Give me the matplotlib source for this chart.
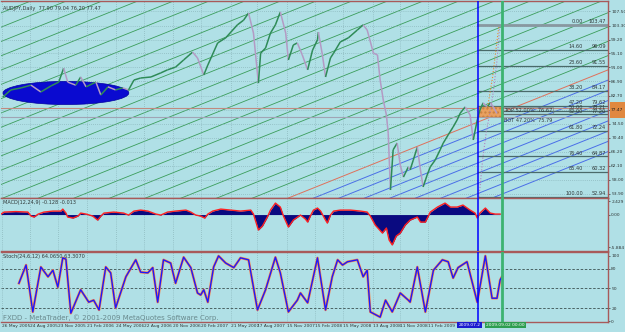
# -*- coding: utf-8 -*-

import numpy as np
import matplotlib.pyplot as plt
from matplotlib.patches import Ellipse, Rectangle
from matplotlib.collections import LineCollection

# data ----------------------------------------------------------------------

title = "AUDJPY,Daily  77.90 79.04 76.20 77.47"
macd_title = "MACD(12,24,9) -0.128 -0.013"
stoch_title = "Stoch(24,6,12) 64.0650 63.3070"
footer = "FXDD - MetaTrader, \u00a9 2001-2009 MetaQuotes Software Corp."

n_bars = 1356

price_bar = [4, 22, 45, 67, 89, 112, 129, 140, 149, 167, 178, 190, 212, 223,
             239, 256, 272, 285, 297, 312, 335, 357, 372, 390, 408, 428, 439,
             453, 462, 484, 502, 528, 542, 553, 564, 575, 580, 591, 602, 613,
             624, 636, 642, 653, 662, 673, 685, 696, 707, 709, 718, 725, 736,
             743, 758, 776, 796, 809, 818, 832, 841, 847, 854, 861, 865, 870,
             876, 885, 892, 899, 910, 914, 921, 930, 937, 943, 952, 959, 970,
             981, 988, 999, 1010, 1019, 1026, 1037, 1048, 1055, 1064, 1070,
             1077, 1086, 1093, 1097, 1108]
price = [82.3, 84.4, 85.0, 85.8, 83.8, 85.6, 86.7, 90.8, 86.7, 85.8, 88.2,
         85.3, 86.7, 82.9, 85.3, 84.4, 85.0, 84.4, 87.3, 87.9, 88.2, 89.4,
         90.3, 91.1, 93.2, 95.5, 93.8, 88.8, 91.7, 98.2, 99.7, 103.5, 104.9,
         107.0, 101.1, 86.4, 95.2, 96.7, 101.1, 103.5, 107.3, 101.1, 93.2,
         97.6, 98.2, 94.7, 90.3, 96.1, 99.1, 101.4, 94.7, 88.2, 93.8, 95.2,
         98.5, 99.7, 102.0, 103.5, 102.0, 95.2, 94.7, 87.3, 81.4, 77.0, 71.7,
         55.0, 66.8, 68.8, 62.3, 58.8, 61.8, 60.9, 63.8, 67.6, 60.9, 55.9,
         59.4, 61.8, 63.8, 66.8, 68.8, 71.2, 73.5, 75.6, 77.6, 79.4, 77.0,
         69.7, 75.6, 78.5, 80.6, 79.4, 80.6, 80.0, 77.5]

macd_bar = [0, 7, 33, 60, 67, 74, 83, 96, 116, 134, 138, 145, 149, 161, 172,
            178, 190, 205, 216, 223, 230, 252, 274, 285, 297, 312, 328, 346,
            357, 372, 390, 413, 424, 435, 446, 455, 462, 473, 491, 513, 535,
            558, 564, 575, 584, 595, 602, 613, 624, 631, 642, 653, 669, 680,
            685, 691, 698, 707, 714, 725, 729, 736, 743, 758, 781, 803, 818,
            825, 836, 852, 861, 867, 874, 883, 892, 903, 914, 930, 937, 948,
            959, 975, 992, 1004, 1019, 1032, 1048, 1059, 1064, 1070, 1082,
            1093, 1104, 1115]
macd = [0.09, 0.45, 0.54, 0.45, -0.27, -0.45, 0.09, 0.45, 0.63, 0.63,
        0.99, 0.27, -0.45, -0.63, -0.27, 0.27, 0.09, -0.27, -1.0, -0.27,
        0.27, 0.45, 0.27, -0.09, 0.63, 0.81, 0.63, 0.09, -0.09, 0.45,
        0.63, 0.81, 0.45, -0.09, -0.27, -0.63, 0.09, 0.63, 0.99, 0.81,
        0.63, 0.81, 0.09, -2.8, -2.08, -0.45, 0.81, 2.08, 1.36, -0.27,
        -2.26, -1.0, -0.09, -0.81, -1.36, -0.27, 0.81, 1.18, 0.63, -1.0,
        -1.54, -0.09, 0.63, 0.81, 0.81, 0.63, 0.45, -0.27, -1.9, -3.35,
        -2.44, -4.61, -5.5, -3.89, -3.35, -1.9, -1.0, -0.45, -1.36, -1.36,
        0.45, 1.36, 2.08, 1.36, 1.36, 1.72, 0.81, 0.27, -0.63, 0.27,
        1.18, 0.27, 0.09, 0.09]

stoch_bar = [40, 56, 71, 89, 105, 116, 127, 138, 145, 156, 178, 196, 207, 219,
             234, 245, 256, 279, 301, 312, 328, 339, 350, 363, 379, 390, 408,
             424, 439, 446, 453, 462, 475, 486, 502, 520, 535, 553, 573, 591,
             613, 624, 642, 662, 669, 685, 707, 725, 740, 752, 763, 774, 796,
             809, 818, 825, 847, 859, 874, 892, 910, 914, 930, 948, 966, 986,
             999, 1010, 1021, 1041, 1064, 1082, 1097, 1108, 1115, 1119]
stoch = [58, 86, 14, 83, 68, 78, 52, 97, 95, 12, 48, 29, 32, 17, 83, 74, 20,
         68, 94, 75, 74, 82, 29, 94, 89, 58, 98, 82, 43, 40, 48, 29, 83, 100,
         89, 82, 97, 94, 17, 48, 98, 74, 14, 32, 43, 28, 97, 17, 68, 94, 86,
         91, 94, 68, 78, 14, 6, 32, 14, 43, 32, 29, 83, 14, 78, 94, 91, 66,
         82, 91, 29, 100, 35, 35, 63, 68]

# fibonacci retracement
fib_pct = ["0.00", "14.60", "23.60", "38.20", "47.20", "50.00", "52.00",
           "61.80", "76.40", "85.40", "100.00"]
fib_price = [103.47, 96.09, 91.55, 84.17, 79.62, 78.21, 77.20, 72.24, 64.87,
             60.32, 52.94]

# channel lines: base line through (642, 52.65), slope per bar
chan_slope = 0.0527
chan_bar0, chan_price0 = 642, 52.65
green_offsets = [4.2, 8.4, 12.6, 16.8, 21.0, 25.2, 29.4, 33.6, 37.8, 42.0,
                 46.2, 50.4, 54.6, 58.8, 63.0, 67.2, 71.4, 75.6, 79.8, 84.0,
                 88.2, 92.4, 96.6]
blue_offsets = [-3.0, -6.0, -9.0, -12.0, -15.0, -18.0, -21.0, -24.0]

# forecast dotted lines
purple_dot_bar = [1068, 1076, 1084, 1092, 1100, 1108, 1114]
purple_dot = [53.0, 64.0, 72.0, 77.5, 84.0, 93.0, 103.0]
orange_dot_bar = [1086, 1098, 1112]
orange_dot = [78.5, 88.0, 103.0]

vline_blue, vline_green = 1066, 1119
box_lo, box_hi = 76.5, 79.4
hline_rose, hline_gray = 79.1, 76.3

price_ticks = [107.50, 103.30, 99.20, 95.10, 91.00, 86.90, 82.70, 78.60,
               74.50, 70.40, 66.20, 62.10, 58.00, 53.90]
date_ticks = [2, 65, 127, 192, 256, 319, 384, 446, 513, 573, 638, 702, 765,
              830, 892, 954]
date_labels = ["26 May 2005", "24 Aug 2005", "23 Nov 2005", "21 Feb 2006",
               "24 May 2006", "22 Aug 2006", "20 Nov 2006", "20 Feb 2007",
               "21 May 2007", "17 Aug 2007", "15 Nov 2007", "15 Feb 2008",
               "15 May 2008", "13 Aug 2008", "11 Nov 2008", "11 Feb 2009"]

# styling -------------------------------------------------------------------

bg = "#b0e0e6"
frame = "#a85a5a"
gridc = "#7fa9ae"
txt = "#303838"
fs = 3.6
fs_ax = 3.2

fig = plt.figure(figsize=(6.25, 3.32), dpi=100, facecolor=bg)
W = 607 / 625
ax = fig.add_axes([1 / 625, 1 - 198 / 332, W, 197 / 332])
axm = fig.add_axes([1 / 625, 1 - 251 / 332, W, 53 / 332])
axs = fig.add_axes([1 / 625, 1 - 322 / 332, W, 70 / 332])

for a in (ax, axm, axs):
    a.set_facecolor(bg)
    a.set_xlim(0, n_bars)
    a.set_xticks(date_ticks)
    a.grid(True, color=gridc, linestyle=(0, (1, 2)), linewidth=0.5)
    a.yaxis.tick_right()
    a.tick_params(axis="y", labelsize=fs_ax, length=1.5, pad=0.8, colors=txt,
                  width=0.5)
    a.tick_params(axis="x", length=0)
    for s in a.spines.values():
        s.set_color(frame)
        s.set_linewidth(1.0)
    a.spines["left"].set_visible(False)
ax.set_xticklabels([])
axm.set_xticklabels([])

# main panel ----------------------------------------------------------------

ax.set_ylim(52.65, 110.52)
ax.set_yticks(price_ticks)
ax.set_yticklabels([f"{v:.2f}" for v in price_ticks])

xx = np.array([0, n_bars])
base = chan_price0 + chan_slope * (xx - chan_bar0)
for off in green_offsets:
    ax.plot(xx, base + off, color="#3a9d5a", lw=0.6, zorder=1)
ax.plot(xx, base, color="#e0705a", lw=0.7, zorder=1)
for off in blue_offsets:
    ax.plot(xx, base + off, color="#4a6ee8", lw=0.7, zorder=1)

ax.axhline(hline_rose, color="#c08a80", lw=0.8, zorder=2)
ax.axhline(hline_gray, color="#a0a4b4", lw=0.8, zorder=2)

ax.add_patch(Ellipse((145, 83.5), 281, 6.8, facecolor="#0a0ad0",
                     edgecolor="#0000a0", lw=0.5, zorder=3))

pts = np.column_stack([price_bar, price])
segs = np.stack([pts[:-1], pts[1:]], axis=1)
cols = ["#2e8b57" if b > a else "#b39ac4" for a, b in zip(price[:-1], price[1:])]
ax.add_collection(LineCollection(segs, colors=cols, linewidths=1.1, zorder=4))

ax.add_patch(Rectangle((vline_blue, box_lo), vline_green - vline_blue,
                       box_hi - box_lo, facecolor="#e8a060", edgecolor="#c88040",
                       hatch="....", lw=0.3, zorder=3))

for p, lab in zip(fib_price, fib_pct):
    lw = 2.0 if lab == "0.00" else 0.9
    c = "#8898a0" if lab == "0.00" else "#4a6a6a"
    ax.plot([vline_blue, n_bars], [p, p], color=c, lw=lw, zorder=2)
    ax.text(1300, p + 0.25, lab, fontsize=fs, color=txt, ha="right",
            va="bottom", zorder=6)
    ax.text(1352, p + 0.25, f"{p:.2f}", fontsize=fs, color=txt, ha="right",
            va="bottom", zorder=6)

ax.text(1124, 78.4, "TOP 52.00%  76.67", fontsize=fs, color=txt, va="center",
        bbox=dict(facecolor="none", edgecolor="#707878", lw=0.4, pad=0.6),
        zorder=6)
ax.text(1124, 75.3, "BOT 47.20%  75.79", fontsize=fs, color=txt, va="center",
        zorder=6)

ax.plot(purple_dot_bar, purple_dot, color="#b080c0", lw=0.8, ls=":", zorder=5)
ax.plot(orange_dot_bar, orange_dot, color="#e88a30", lw=0.8, ls=":", zorder=5)

ax.add_patch(Rectangle((1.003, 0.405), 0.026, 0.08, transform=ax.transAxes,
                       facecolor="#e08840", edgecolor="none", clip_on=False,
                       zorder=6))
ax.text(1.004, 0.445, "77.47", transform=ax.transAxes, fontsize=fs_ax,
        color="#202020", va="center", clip_on=False, zorder=7)

ax.text(0.004, 0.975, title, transform=ax.transAxes, fontsize=fs, color=txt,
        va="top")

# MACD panel ----------------------------------------------------------------

axm.set_ylim(-6.6, 3.0)
axm.set_yticks([2.429, 0.0, -5.884])
axm.set_yticklabels(["2.429", "0.00", "-5.884"])
axm.grid(False, axis="y")
axm.fill_between(macd_bar, 0, macd, color="#0a0a80", lw=0, zorder=2)
axm.plot(macd_bar, macd, color="#ff2020", lw=1.0, zorder=3)
axm.text(0.004, 0.96, macd_title, transform=axm.transAxes, fontsize=fs,
         color=txt, va="top")

# stochastic panel ----------------------------------------------------------

axs.set_ylim(-1.5, 106)
axs.set_yticks([100, 80, 50, 20, 0])
axs.grid(False, axis="y")
for lev in (80, 50, 20):
    axs.axhline(lev, color="#3a5050", lw=0.6, ls=(0, (3, 2)), zorder=1)
axs.plot(stoch_bar, stoch, color="#ff8040", lw=1.8, zorder=2)
axs.plot(stoch_bar, stoch, color="#1a1aff", lw=1.0, zorder=3)
axs.text(0.004, 0.97, stoch_title, transform=axs.transAxes, fontsize=fs,
         color=txt, va="top")
axs.text(0.004, 0.02, footer, transform=axs.transAxes, fontsize=5.0,
         color="#6a8a8e", va="bottom")

axs.set_xticklabels(date_labels, ha="left")
axs.tick_params(axis="x", labelsize=fs_ax, pad=1.5, colors=txt)

# vertical lines and their date boxes
for a in (ax, axm, axs):
    a.axvline(vline_blue, color="#0000ff", lw=1.1, zorder=5)
    a.axvline(vline_green, color="#3cb371", lw=2.0, zorder=5)
axs.text(vline_blue - 44, -3.0, "2009.07.2", fontsize=fs_ax, color="white",
         va="top", ha="left", clip_on=False,
         bbox=dict(facecolor="#1a1ad0", edgecolor="none", pad=0.8))
axs.text(vline_green - 36, -3.0, "2009.09.02 00:00", fontsize=fs_ax,
         color="white", va="top", ha="left", clip_on=False,
         bbox=dict(facecolor="#2e9e50", edgecolor="none", pad=0.8))

plt.savefig("out.png", dpi=100, facecolor=bg)
